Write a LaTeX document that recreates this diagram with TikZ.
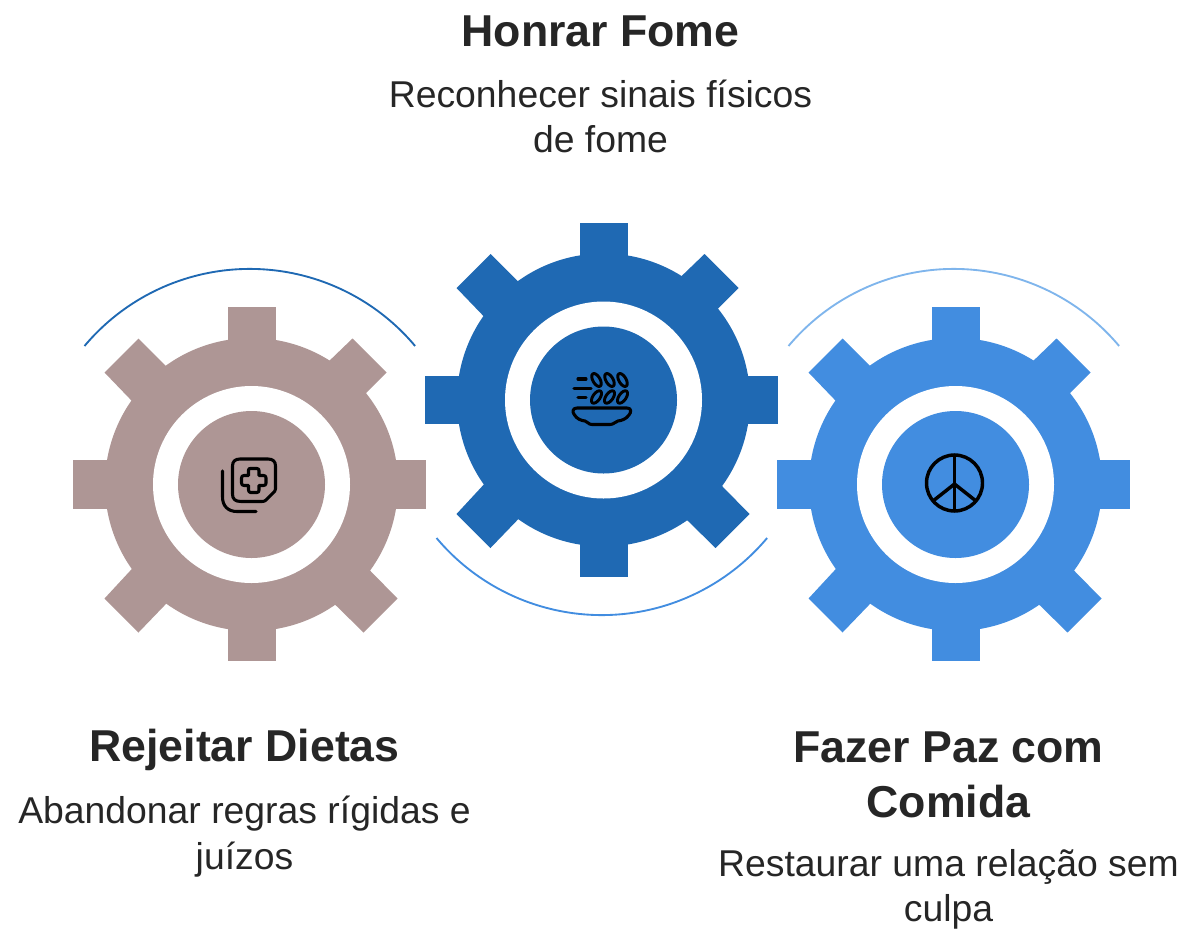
\documentclass[tikz,border=0pt]{standalone}
\usepackage{fontspec}
\setmainfont{Liberation Sans}
\definecolor{brownc}{HTML}{AE9695}
\definecolor{darkb}{HTML}{1F69B3}
\definecolor{lightb}{HTML}{428DE0}
\definecolor{paleb}{HTML}{7FB5EC}
\definecolor{inkc}{HTML}{262626}
\tikzset{
  titletext/.style={font=\fontsize{33.5}{41.3}\selectfont\bfseries,text=inkc,align=center,inner sep=0pt},
  bodytext/.style={font=\fontsize{28}{34}\selectfont,text=inkc,align=center,inner sep=0pt},
  icon/.style={draw=black,line width=2.3pt,line cap=round,line join=round},
  ringarc/.style={line width=1.4pt}
}
\newcommand{\gearshape}[3]{%
 \begin{scope}[shift={(#1,#2)}]
  \fill[#3] (2,0) circle[radius=146.5*0.75pt];
  \fill[#3] (-22,-177.5) rectangle (26.5,-100);
  \fill[#3] (-22,176.5) rectangle (26.5,100);
  \fill[#3] (-176.5,-24.5) rectangle (-100,24);
  \fill[#3] (176.5,-24.5) rectangle (100,24);
  \fill[#3] (-145,-112) -- (-111,-146) -- (-60,-95) -- (-95,-60) -- cycle;
  \fill[#3] (103,-146) -- (137,-112) -- (85,-60) -- (50,-95) -- cycle;
  \fill[#3] (-145,114) -- (-111,148) -- (-60,95) -- (-95,60) -- cycle;
  \fill[#3] (148,114) -- (114,148) -- (60,95) -- (95,60) -- cycle;
  \fill[white] (2,0) circle[radius=98.5*0.75pt];
  \fill[#3] (2,0) circle[radius=73.5*0.75pt];
 \end{scope}}
\begin{document}
\begin{tikzpicture}[x=0.75pt,y=-0.75pt]
\useasboundingbox (0,0) rectangle (1181,928);
\gearshape{249.5}{484.5}{brownc}
\gearshape{601.5}{400}{darkb}
\gearshape{953.5}{484.5}{lightb}
% arcs
\coordinate (arcA) at (84.5,346);
\coordinate (arcB) at (788.5,346);
\coordinate (arcC) at (436.5,538);
\draw[ringarc,darkb] (arcA) arc[start angle=140,end angle=40,radius=215.8*0.75pt];
\draw[ringarc,paleb] (arcB) arc[start angle=140,end angle=40,radius=215.8*0.75pt];
\draw[ringarc,lightb] (arcC) arc[start angle=220,end angle=320,radius=215.8*0.75pt];
% icon left
\draw[icon] (240,459) -- (268,459) .. controls (273,459) and (275.5,461.5) .. (275.5,466) -- (275.5,489) .. controls (275.5,491) and (274,492) .. (273,493) -- (266,500) .. controls (265,501) and (264,501.5) .. (262,501.5) -- (241,501.5) .. controls (235,501.5) and (232.5,499) .. (232.5,494) -- (232.5,466) .. controls (232.5,461.5) and (235,459) .. (240,459) -- cycle;
\draw[icon] (222.5,471) -- (222.5,497) .. controls (222.5,506) and (228,511.5) .. (237,511.5) -- (256,511.5);
\draw[icon] (248.5,470) .. controls (248.5,468.5) and (249.5,468.5) .. (250.5,468.5) -- (257,468.5) .. controls (258.5,468.5) and (259,469.5) .. (259,470.5) -- (259,475.5) -- (263.5,475.5) .. controls (265.5,475.5) and (266,476.5) .. (266,478) -- (266,483) .. controls (266,484.5) and (265.5,485.5) .. (263.5,485.5) -- (259,485.5) -- (259,490) .. controls (259,491.5) and (258.5,492.5) .. (257,492.5) -- (250.5,492.5) .. controls (249.5,492.5) and (248.5,491.5) .. (248.5,490) -- (248.5,485.5) -- (244,485.5) .. controls (242.5,485.5) and (241.5,484.5) .. (241.5,483) -- (241.5,478) .. controls (241.5,476.5) and (242.5,475.5) .. (244,475.5) -- (248.5,475.5) -- cycle;
% icon middle
\draw[icon] (578,379) -- (586,379);
\draw[icon] (574,388.5) -- (591,388.5);
\draw[icon] (578,397.5) -- (586,397.5);
\foreach \x/\y in {596.5/380,609.5/380,622.5/380}
  \draw[icon,line width=2.2pt] (\x,\y) ellipse[x radius=3.6*0.75pt,y radius=7.2*0.75pt,rotate=30];
\foreach \x/\y in {596.5/397,609.5/397,622.5/397}
  \draw[icon,line width=2.2pt] (\x,\y) ellipse[x radius=3.6*0.75pt,y radius=7.2*0.75pt,rotate=-35];
\draw[icon] (577,408) -- (627,408) .. controls (631.5,408) and (631.5,412) .. (629,415) .. controls (626,419) and (622,420.5) .. (618,421) .. controls (615,421.5) and (614,424.5) .. (610,424.5) -- (592,424.5) .. controls (588,424.5) and (588,421.5) .. (585,421) .. controls (581,420.5) and (577,419) .. (574.5,415) .. controls (572,412) and (572.5,408) .. (577,408) -- cycle;
% icon right
\coordinate (pc) at (954.5,483);
\draw[icon,line width=2.6pt] (pc) circle[radius=28*0.75pt];
\draw[icon,line width=2.6pt] (954.5,455) -- (954.5,511);
\draw[icon,line width=2.6pt] (954.5,484) -- (933,501);
\draw[icon,line width=2.6pt] (954.5,484) -- (976,501);
% texts
\node[titletext] (t1) at (600.5,31) {Honrar Fome};
\node[bodytext] (b1) at (600.5,116.5) {Reconhecer sinais físicos\\de fome};
\node[titletext] (t2) at (244.5,749.5) {Rejeitar Dietas};
\node[bodytext] (b2) at (244.5,836.5) {Abandonar regras rígidas e\\juízos};
\node[titletext] (t3) at (948.5,775) {Fazer Paz com\\Comida};
\node[bodytext] (b3) at (948.5,889.5) {Restaurar uma relação sem\\culpa};
\end{tikzpicture}
\end{document}
